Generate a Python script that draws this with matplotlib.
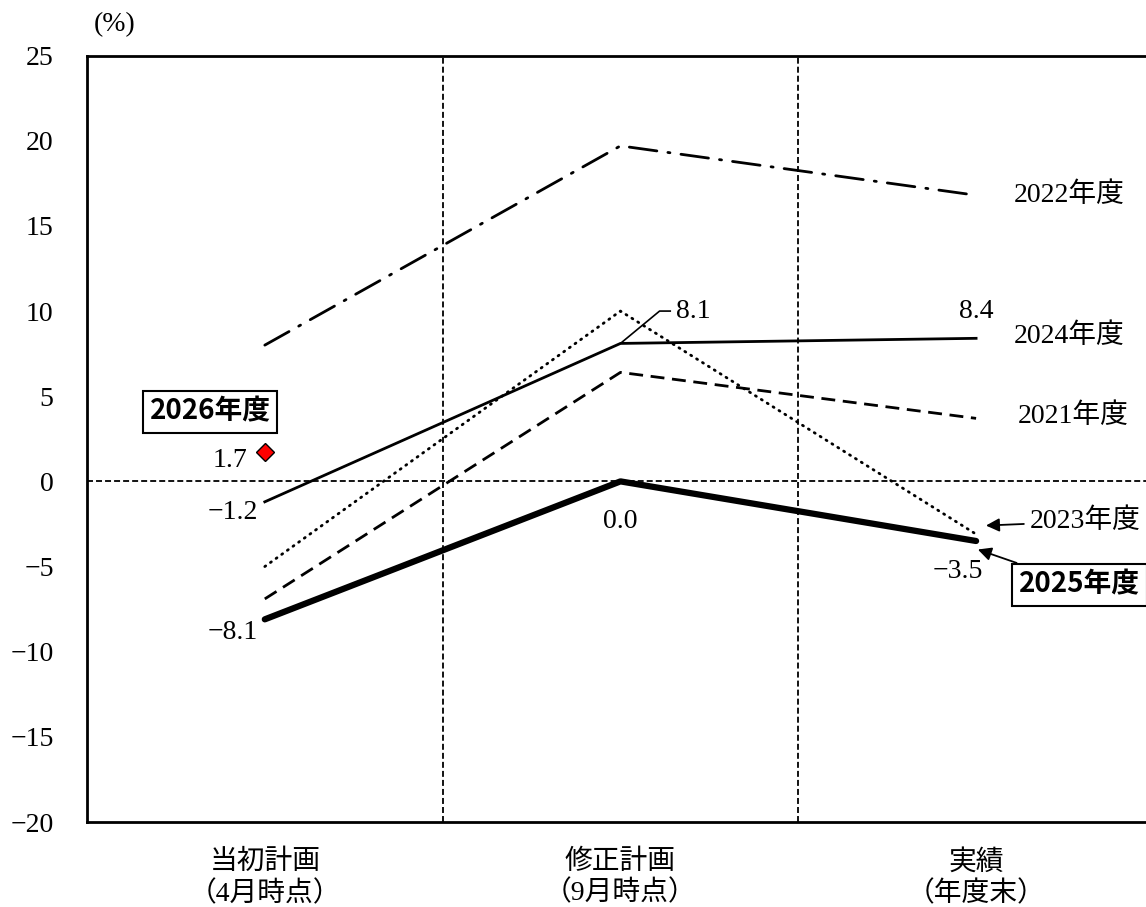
import matplotlib
matplotlib.use("Agg")
import matplotlib.pyplot as plt

plt.rcParams['font.family'] = ['Liberation Serif', 'Noto Sans CJK JP']
plt.rcParams['lines.scale_dashes'] = False

stages = ['当初計画\n（4月時点）', '修正計画\n（9月時点）', '実績\n（年度末）']
fy2021 = [-6.9, 6.4, 3.7]
fy2022 = [8.0, 19.7, 16.8]
fy2023 = [-5.0, 10.0, -3.1]
fy2024 = [-1.2, 8.1, 8.4]
fy2025 = [-8.1, 0.0, -3.5]
fy2026 = 1.7

xs = [i + 0.5 for i in range(len(stages))]

fig = plt.figure(figsize=(11.46, 9.07), dpi=100)
ax = fig.add_axes([0.0759, 0.0937, 0.931, 0.845])

# reference lines
ax.axhline(0, color='black', lw=1.3, ls=(0, (4.3, 2.2)), zorder=1)
for xv in [1, 2]:
    ax.axvline(xv, color='black', lw=1.3, ls=(0, (4.3, 2.2)), zorder=1)

ax.plot(xs, fy2022, color='black', lw=2.0, ls=(0, (20, 8, 1.5, 8)), solid_capstyle='round', dash_capstyle='round')
ax.plot(xs, fy2021, color='black', lw=2.0, ls=(0, (10, 5.5)))
ax.plot(xs, fy2023, color='black', lw=2.0, ls=(0, (0.8, 4.2)), dash_capstyle='round')
ax.plot(xs, fy2024, color='black', lw=2.0)
ax.plot(xs, fy2025, color='black', lw=4.5, solid_capstyle='round', solid_joinstyle='round')
ax.plot([xs[0]], [fy2026], marker='D', ms=9, mfc='#ff0000', mec='black', mew=1.0, ls='none', zorder=5)

ax.set_xlim(0, 3)
ax.set_ylim(-20, 25)
ax.set_yticks(range(-20, 26, 5))
ax.set_yticklabels([('−' + str(-v)) if v < 0 else str(v) for v in range(-20, 26, 5)])
ax.set_xticks(xs)
ax.set_xticklabels(stages, linespacing=1.25)
ax.tick_params(axis='both', length=0, labelsize=20)
ax.tick_params(axis='x', pad=20)
ax.tick_params(axis='y', pad=24)
for s in ax.spines.values():
    s.set_linewidth(2.0)

fs = 20
# value labels
ax.text(xs[0] - 0.02, -1.8, '−1.2', ha='right', va='center', fontsize=fs)
ax.text(xs[0] - 0.02, -8.9, '−8.1', ha='right', va='center', fontsize=fs)
ax.text(xs[0] - 0.05, 1.2, f'{fy2026}', ha='right', va='center', fontsize=fs)
ax.text(xs[1], -2.35, '0.0', ha='center', va='center', fontsize=fs)
ax.text(xs[2] - 0.05, -5.3, '−3.5', ha='center', va='center', fontsize=fs)
ax.text(xs[2], 10.0, '8.4', ha='center', va='center', fontsize=fs)
ax.plot([xs[1], 1.61, 1.64], [fy2024[1], 10.0, 10.0], color='black', lw=1.2)
ax.text(1.655, 10.0, f'{fy2024[1]}', ha='left', va='center', fontsize=fs)

# series names
ax.text(2.605, 16.8, '2022年度', ha='left', va='center', fontsize=fs)
ax.text(2.605, 8.5, '2024年度', ha='left', va='center', fontsize=fs)
ax.text(2.618, 3.8, '2021年度', ha='left', va='center', fontsize=fs)
ax.annotate('2023年度', xy=(2.52, -2.6), xytext=(2.65, -2.35), ha='left', va='center', fontsize=fs,
            arrowprops=dict(arrowstyle='-|>', color='black', lw=1.3, mutation_scale=20))
ax.annotate('2025年度', xy=(2.505, -4.0), xytext=(2.62, -6.06), ha='left', va='center', fontsize=fs,
            family='Noto Sans CJK JP', fontweight='bold',
            bbox=dict(boxstyle='square,pad=0.25', fc='white', ec='black', lw=1.5),
            arrowprops=dict(arrowstyle='-|>', color='black', lw=1.3, mutation_scale=20,
                            shrinkA=0, shrinkB=0))
ax.text(0.346, 4.1, '2026年度', ha='center', va='center', fontsize=fs,
        family='Noto Sans CJK JP', fontweight='bold',
        bbox=dict(boxstyle='square,pad=0.25', fc='white', ec='black', lw=1.5))

fig.text(0.1, 0.973, '(%)', ha='center', va='center', fontsize=fs)

fig.savefig('out.png', dpi=100)
